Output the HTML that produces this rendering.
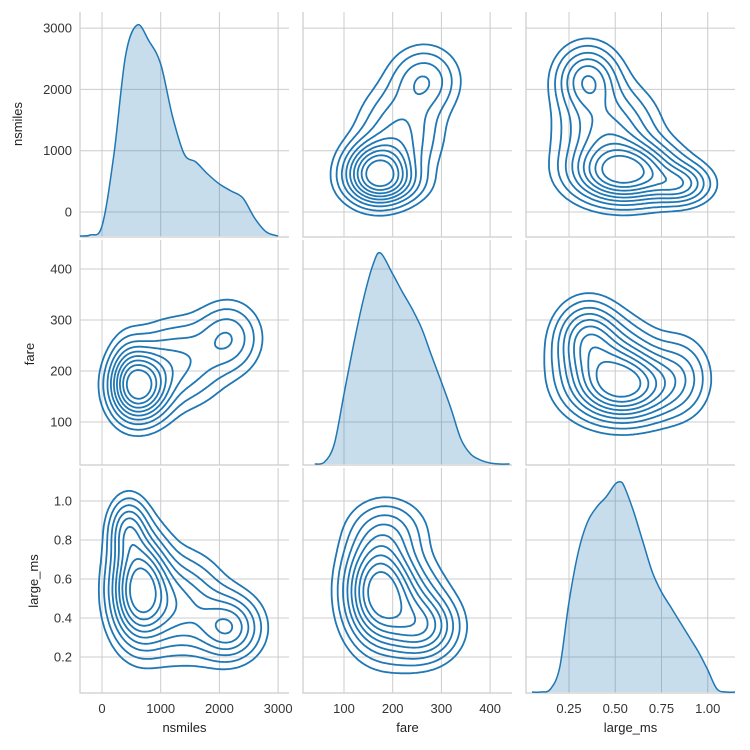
<!DOCTYPE html>
<html><head><meta charset="utf-8">
<style>
html,body{margin:0;padding:0;background:#fff;}
svg{display:block;font-family:"Liberation Sans","DejaVu Sans",sans-serif;}
</style></head>
<body>
<svg id="chart" width="750" height="750" viewBox="0 0 750 750" xmlns="http://www.w3.org/2000/svg"></svg>
<script>
// ---- data ----
const variables = ["nsmiles", "fare", "large_ms"];
const nsTicks = [0, 1000, 2000, 3000];
const fareTicks = [100, 200, 300, 400];
const msTicksX = [0.25, 0.5, 0.75, 1.0];
const msTickLabelsX = ["0.25", "0.50", "0.75", "1.00"];
const msTicksY = [0.2, 0.4, 0.6, 0.8, 1.0];
const msTickLabelsY = ["0.2", "0.4", "0.6", "0.8", "1.0"];
// diagonal KDE curves (relative density)
const nsKdeX = [-400,-200,0,200,400,600,800,1000,1200,1400,1600,1800,2000,2200,2400,2600,2800,3000];
const nsKdeY = [0,1,10,80,180,211,195,172,120,82,74,62,52,45,38,18,4,0];
const fareKdeX = [40,60,80,100,120,140,160,175,200,220,240,260,280,300,320,340,360,380,400,420,440];
const fareKdeY = [0,2,20,70,120,165,200,211,190,172,155,135,108,82,55,25,10,4,1,0,0];
const msKdeX = [0.05,0.1,0.15,0.2,0.25,0.3,0.35,0.4,0.45,0.5,0.53,0.55,0.6,0.65,0.7,0.75,0.8,0.85,0.9,0.95,1.0,1.05,1.1,1.15];
const msKdeY = [0,0,3,25,90,140,170,185,195,208,210,205,180,150,120,100,85,70,55,40,22,3,0,0];
// mixture components for joint density (nsmiles, fare, large_ms)
const compWeight = [0.48, 0.28, 0.16, 0.08];
const compNsMean = [650, 1300, 2150, 450];
const compNsSd = [290, 450, 330, 200];
const compFareMean = [170, 215, 265, 190];
const compFareSd = [40, 50, 42, 48];
const compMsMean = [0.55, 0.46, 0.35, 0.85];
const compMsSd = [0.16, 0.15, 0.1, 0.1];
const levelFractions = [0.05, 0.1, 0.17, 0.25, 0.34, 0.44, 0.55, 0.67, 0.8];

// ---- layout ----
const NS = "http://www.w3.org/2000/svg";
const svg = document.getElementById('chart');
const colX0 = [80, 303, 526], panelW = 209;
const rowY0 = [12, 240, 468], panelH = 225;
const color = "#1f77b4";
const sx = [v => 102 + v * 0.0587, v => 344 + (v - 100) * 0.487, v => 569 + (v - 0.25) * 185];
const sy = [v => 212 - v * 0.0613, v => 422 - (v - 100) * 0.51, v => 657 - (v - 0.2) * 195];
const inv = (f, a, b) => { const pa = f(a), pb = f(b); return p => a + (p - pa) * (b - a) / (pb - pa); };
const ixs = [inv(sx[0], 0, 1000), inv(sx[1], 100, 200), inv(sx[2], 0, 1)];
const iys = [inv(sy[0], 0, 1000), inv(sy[1], 100, 200), inv(sy[2], 0, 1)];
const xTicks = [nsTicks, fareTicks, msTicksX];
const xLabels = [nsTicks.map(String), fareTicks.map(String), msTickLabelsX];
const yTicks = [nsTicks, fareTicks, msTicksY];
const yLabels = [nsTicks.map(String), fareTicks.map(String), msTickLabelsY];
const means = [compNsMean, compFareMean, compMsMean];
const sds = [compNsSd, compFareSd, compMsSd];

function mk(tag, attrs, parent) {
  const e = document.createElementNS(NS, tag);
  for (const k in attrs) e.setAttribute(k, attrs[k]);
  (parent || svg).appendChild(e);
  return e;
}
const defs = mk('defs', {});

function gauss(x, m, s) { const z = (x - m) / s; return Math.exp(-0.5 * z * z) / s; }
function density(i, j, x, y) {
  let d = 0;
  for (let k = 0; k < compWeight.length; k++)
    d += compWeight[k] * gauss(x, means[i][k], sds[i][k]) * gauss(y, means[j][k], sds[j][k]);
  return d;
}
function smoothPath(pts) {
  let d = `M${pts[0][0].toFixed(1)},${pts[0][1].toFixed(1)}`;
  for (let i = 0; i < pts.length - 1; i++) {
    const p0 = pts[Math.max(0, i - 1)], p1 = pts[i], p2 = pts[i + 1], p3 = pts[Math.min(pts.length - 1, i + 2)];
    const c1 = [p1[0] + (p2[0] - p0[0]) / 6, p1[1] + (p2[1] - p0[1]) / 6];
    const c2 = [p2[0] - (p3[0] - p1[0]) / 6, p2[1] - (p3[1] - p1[1]) / 6];
    d += `C${c1[0].toFixed(1)},${c1[1].toFixed(1)} ${c2[0].toFixed(1)},${c2[1].toFixed(1)} ${p2[0].toFixed(1)},${p2[1].toFixed(1)}`;
  }
  return d;
}

for (let r = 0; r < 3; r++) {
  for (let c = 0; c < 3; c++) {
    const x0 = colX0[c], y0 = rowY0[r];
    const g = mk('g', {});
    
    
    const cp = mk('clipPath', { id: 'clip' + r + c }, defs);
    mk('rect', { x: x0, y: y0, width: panelW, height: panelH }, cp);
    xTicks[c].forEach(t => {
      const l = mk('line', { x1: sx[c](t), x2: sx[c](t), y1: y0, y2: y0 + panelH, stroke: '#cccccc', 'stroke-width': 1 }, g);
      
      
    });
    yTicks[r].forEach(t => {
      const l = mk('line', { x1: x0, x2: x0 + panelW, y1: sy[r](t), y2: sy[r](t), stroke: '#cccccc', 'stroke-width': 1 }, g);
      
      
    });
    const sp = mk('path', { d: `M${x0},${y0}V${y0 + panelH}H${x0 + panelW}`, fill: 'none', stroke: '#cccccc', 'stroke-width': 1.2 }, g);
    
    

    const cg = mk('g', { 'clip-path': `url(#clip${r}${c})` }, g);
    if (r === c) {
      const KX = [nsKdeX, fareKdeX, msKdeX][c], KY = [nsKdeY, fareKdeY, msKdeY][c];
      const base = y0 + panelH - 1;
      const scale = (panelH - 14) / 211;
      const pts = KX.map((v, k) => [sx[c](v), base - KY[k] * scale]);
      const d = smoothPath(pts);
      const area = mk('path', { d: d + `L${pts[pts.length - 1][0]},${base}L${pts[0][0]},${base}Z`, fill: color, 'fill-opacity': 0.25, stroke: 'none' }, cg);
      
      
      const line = mk('path', { d: d, fill: 'none', stroke: color, 'stroke-width': 1.5, 'stroke-linejoin': 'round' }, cg);
      
      
    } else {
      const N = 100;
      const gx = [], gy = [], val = [];
      for (let a = 0; a <= N; a++) { gx.push(x0 + panelW * a / N); gy.push(y0 + panelH * a / N); }
      let mx = 0;
      for (let b = 0; b <= N; b++) {
        val.push([]);
        for (let a = 0; a <= N; a++) {
          const v = density(c, r, ixs[c](gx[a]), iys[r](gy[b]));
          val[b].push(v); if (v > mx) mx = v;
        }
      }
      levelFractions.forEach((f, li) => {
        const L = f * mx; let d = '';
        for (let b = 0; b < N; b++) for (let a = 0; a < N; a++) {
          const v0 = val[b][a], v1 = val[b][a + 1], v2 = val[b + 1][a + 1], v3 = val[b + 1][a];
          const e = [];
          const it = (va, vb, pa, pb) => { const t = (L - va) / (vb - va); return [pa[0] + t * (pb[0] - pa[0]), pa[1] + t * (pb[1] - pa[1])]; };
          const P0 = [gx[a], gy[b]], P1 = [gx[a + 1], gy[b]], P2 = [gx[a + 1], gy[b + 1]], P3 = [gx[a], gy[b + 1]];
          if ((v0 > L) !== (v1 > L)) e.push(it(v0, v1, P0, P1));
          if ((v1 > L) !== (v2 > L)) e.push(it(v1, v2, P1, P2));
          if ((v2 > L) !== (v3 > L)) e.push(it(v2, v3, P2, P3));
          if ((v3 > L) !== (v0 > L)) e.push(it(v3, v0, P3, P0));
          for (let q = 0; q + 1 < e.length; q += 2)
            d += `M${e[q][0].toFixed(1)},${e[q][1].toFixed(1)}L${e[q + 1][0].toFixed(1)},${e[q + 1][1].toFixed(1)}`;
        }
        const p = mk('path', { d: d, fill: 'none', stroke: color, 'stroke-width': 1.8, 'stroke-linecap': 'round' }, cg);
        
        
      });
    }
    if (c === 0) {
      yTicks[r].forEach((t, k) => {
        const tx = mk('text', { x: x0 - 8, y: sy[r](t) + 4.5, 'text-anchor': 'end', 'font-size': 13, fill: '#333' });
        tx.textContent = yLabels[r][k];
        
        
      });
    }
    if (r === 2) {
      xTicks[c].forEach((t, k) => {
        const tx = mk('text', { x: sx[c](t), y: 713, 'text-anchor': 'middle', 'font-size': 13, fill: '#333' });
        tx.textContent = xLabels[c][k];
        
        
      });
    }
  }
}
const yT = [[22, 124], [34, 354], [38, 581]];
variables.forEach((v, i) => {
  const t = mk('text', { x: yT[i][0], y: yT[i][1], transform: `rotate(-90 ${yT[i][0]} ${yT[i][1]})`, 'text-anchor': 'middle', 'font-size': 13, fill: '#222' });
  t.textContent = v;
  
  
  const t2 = mk('text', { x: colX0[i] + panelW / 2, y: 732, 'text-anchor': 'middle', 'font-size': 13, fill: '#222' });
  t2.textContent = v;
  
  
});
</script>
</body></html>
